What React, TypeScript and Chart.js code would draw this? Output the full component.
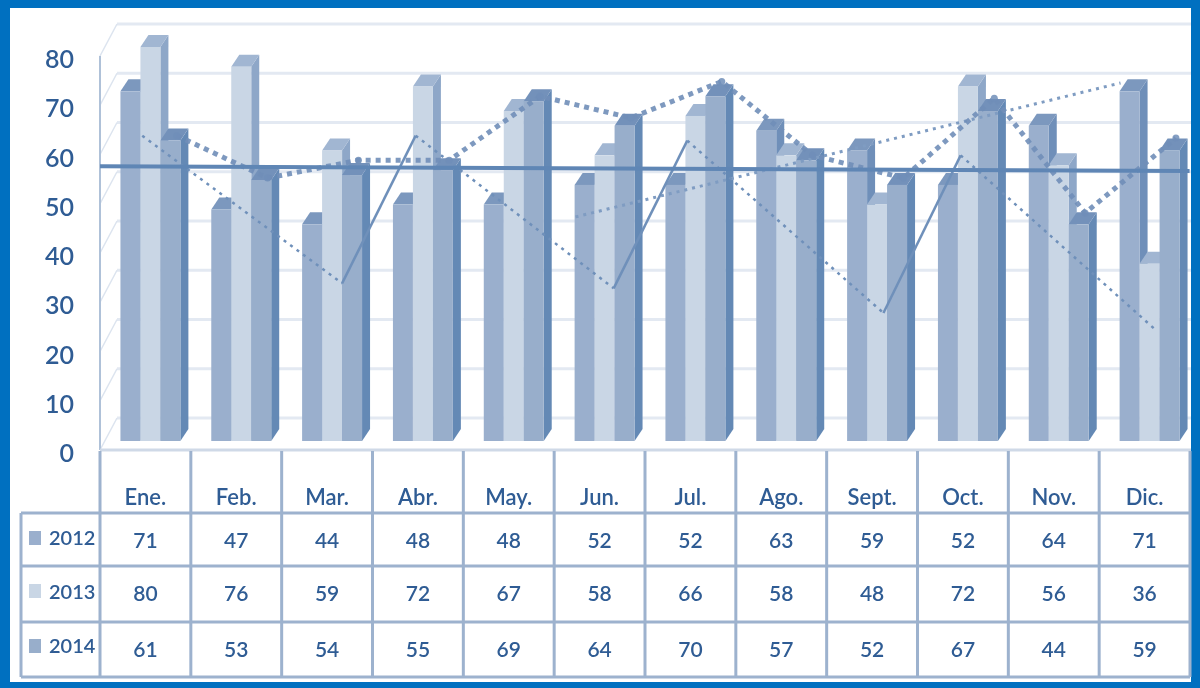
import React, { useEffect, useRef } from "react";
import { Chart, registerables } from "chart.js";

Chart.register(...registerables);

const months = ["Ene.", "Feb.", "Mar.", "Abr.", "May.", "Jun.", "Jul.", "Ago.", "Sept.", "Oct.", "Nov.", "Dic."];
const values2012 = [71, 47, 44, 48, 48, 52, 52, 63, 59, 52, 64, 71];
const values2013 = [80, 76, 59, 72, 67, 58, 66, 58, 48, 72, 56, 36];
const values2014 = [61, 53, 54, 55, 69, 64, 70, 57, 52, 67, 44, 59];
const yTicks = { min: 0, max: 80, step: 10 };

// overlay lines
const thickLine = [62, 53.4, 57, 57, 70, 65.6, 73, 58, 53.4, 69.6, 46.3, 61.5];
const sawPositions = [-0.09, 2.11, 2.92, 5.1, 5.91, 8.07, 8.92, 11.07];
const sawValues = [62, 32, 62, 31, 61, 26, 58, 22.5];
const risingPositions = [4.68, 10.68];
const risingValues = [45.5, 72.7];
const averagePositions = [-0.555, 11.44];
const averageValues = [55.8, 54.8];

const series = [
  { name: "2012", values: values2012, front: "#9AAFCD", side: "#6F8FB9", top: "#7C98BE" },
  { name: "2013", values: values2013, front: "#C9D6E5", side: "#8EA7C8", top: "#A1B6D2" },
  { name: "2014", values: values2014, front: "#98AECB", side: "#6489B5", top: "#7391BA" },
];

const DEPTH_X = 8;
const DEPTH_Y = 12;
const TEXT = "#2F5C94";
const LINE = "#9DB2CE";
const FONT = "Lato, sans-serif";

const chartDecor = {
  id: "chartDecor",
  beforeDraw(chart: any) {
    const { ctx } = chart;
    const y = chart.scales.y;
    const x = chart.scales.x;
    const cellW = x.width / months.length;
    const cellEdge = (i: number) => x.left - 5 + i * cellW;

    ctx.save();
    // white page and blue frame
    ctx.fillStyle = "#0070C0";
    ctx.fillRect(0, 0, 1200, 688);
    ctx.fillStyle = "#FFFFFF";
    ctx.fillRect(10, 8, 1181, 674);

    // walls
    y.ticks.forEach((t: any) => {
      const p = y.getPixelForValue(t.value);
      ctx.strokeStyle = "#E3E9F2";
      ctx.lineWidth = 3;
      ctx.beginPath();
      ctx.moveTo(117, p - 23);
      ctx.lineTo(1191, p - 23);
      ctx.stroke();
      ctx.lineWidth = 1.5;
      ctx.strokeStyle = "#DCE4EF";
      ctx.beginPath();
      ctx.moveTo(100, p + 9);
      ctx.lineTo(117, p - 23);
      ctx.stroke();
    });
    ctx.strokeStyle = "#AFC1D8";
    ctx.lineWidth = 2;
    ctx.beginPath();
    ctx.moveTo(100, y.getPixelForValue(yTicks.max) + 9);
    ctx.lineTo(100, y.getPixelForValue(0) + 9);
    ctx.stroke();
    ctx.strokeStyle = "#CFD9E7";
    ctx.lineWidth = 3;
    ctx.beginPath();
    ctx.moveTo(100, y.getPixelForValue(0) + 9);
    ctx.lineTo(1191, y.getPixelForValue(0) + 9);
    ctx.stroke();

    // table
    ctx.strokeStyle = LINE;
    ctx.lineWidth = 3;
    const rows = [513, 566, 622, 677];
    ctx.beginPath();
    rows.forEach((r) => {
      ctx.moveTo(21, r);
      ctx.lineTo(1190, r);
    });
    ctx.moveTo(21, rows[0]);
    ctx.lineTo(21, rows[3]);
    for (let i = 0; i <= months.length; i++) {
      ctx.moveTo(cellEdge(i), 451);
      ctx.lineTo(cellEdge(i), rows[3]);
    }
    ctx.stroke();

    const rowText = [541, 594, 650];
    const rowName = [539, 593, 647];
    const swatch = [531, 584, 639];
    ctx.textBaseline = "middle";
    series.forEach((s, r) => {
      ctx.fillStyle = s.front;
      ctx.fillRect(29, swatch[r], 12, 14);
      ctx.fillStyle = TEXT;
      ctx.font = `600 20px ${FONT}`;
      ctx.textAlign = "left";
      ctx.fillText(s.name, 49, rowName[r]);
      ctx.font = `600 21px ${FONT}`;
      ctx.textAlign = "center";
      s.values.forEach((v, i) => {
        ctx.fillText(String(v), cellEdge(i) + cellW / 2, rowText[r]);
      });
    });
    ctx.restore();
  },
  beforeDatasetsDraw(chart: any) {
    const { ctx } = chart;
    ctx.save();
    // bars, left to right, so that each hides the side of the one before it
    months.forEach((_, i) => {
      series.forEach((s, d) => {
        const el = chart.getDatasetMeta(d).data[i];
        const l = el.x - el.width / 2;
        const r = el.x + el.width / 2;
        const t = el.y;
        const b = el.base;
        ctx.fillStyle = s.side;
        ctx.beginPath();
        ctx.moveTo(r, t);
        ctx.lineTo(r + DEPTH_X, t - DEPTH_Y);
        ctx.lineTo(r + DEPTH_X, b - DEPTH_Y);
        ctx.lineTo(r, b);
        ctx.closePath();
        ctx.fill();
        ctx.fillStyle = s.top;
        ctx.beginPath();
        ctx.moveTo(l, t);
        ctx.lineTo(l + DEPTH_X, t - DEPTH_Y);
        ctx.lineTo(r + DEPTH_X, t - DEPTH_Y);
        ctx.lineTo(r, t);
        ctx.closePath();
        ctx.fill();
        ctx.fillStyle = s.front;
        ctx.fillRect(l, t, r - l, b - t);
      });
    });
    ctx.restore();
  },
  beforeDatasetDraw(chart: any, args: any) {
    // bar faces are painted together above, in depth order
    if (args.index < series.length) return false;
    return true;
  },
};

export default function App() {
  const ref = useRef<HTMLCanvasElement>(null);
  useEffect(() => {
    document.body.style.margin = "0";
    document.body.style.background = "#fff";
    const lineBase = {
      type: "line" as const,
      fill: false,
      tension: 0,
      clip: false as const,
    };
    const chart = new Chart(ref.current as HTMLCanvasElement, {
      type: "bar",
      data: {
        datasets: [
          ...series.map((s) => ({
            label: s.name,
            data: s.values.map((y, x) => ({ x, y })),
            backgroundColor: s.front,
            barPercentage: 1,
            categoryPercentage: 0.66,
          })),
          {
            ...lineBase,
            label: "Promedio",
            data: averagePositions.map((x, i) => ({ x, y: averageValues[i] })),
            borderColor: "#5F86B5",
            borderWidth: 4,
            pointRadius: 0,
          },
          {
            ...lineBase,
            label: "Tendencia",
            data: thickLine.map((y, i) => ({ x: i + 0.29, y })),
            borderColor: "rgba(112,142,184,0.9)",
            borderWidth: 5,
            borderDash: [5, 5],
            pointRadius: 3.5,
            pointBackgroundColor: "rgba(112,142,184,0.85)",
            pointBorderWidth: 0,
          },
          {
            ...lineBase,
            label: "Sierra",
            data: sawPositions.map((x, i) => ({ x, y: sawValues[i] })),
            borderColor: "#6F90BA",
            borderWidth: 2.5,
            pointRadius: 0,
            segment: {
              borderDash: (c: any) => (c.p0DataIndex % 2 === 0 ? [3, 5] : undefined),
            },
          },
          {
            ...lineBase,
            label: "Ascenso",
            data: risingPositions.map((x, i) => ({ x, y: risingValues[i] })),
            borderColor: "#7F9CC2",
            borderWidth: 3,
            borderDash: [3, 5],
            pointRadius: 0,
          },
        ] as any,
      },
      options: {
        animation: false,
        responsive: false,
        devicePixelRatio: 1,
        layout: { autoPadding: false, padding: { left: 0, right: 5, top: 47, bottom: 0 } },
        plugins: { legend: { display: false }, tooltip: { enabled: false } },
        scales: {
          x: {
            type: "linear",
            offset: false,
            min: -0.5,
            max: 11.5,
            grid: { display: false },
            border: { display: false },
            afterBuildTicks: (s: any) => {
              s.ticks = months.map((_, value) => ({ value }));
            },
            afterFit: (s: any) => {
              s.height = 247;
              s.paddingLeft = 0;
              s.paddingRight = 0;
            },
            ticks: {
              callback: (v: any) => months[v as number] ?? "",
              color: TEXT,
              font: { family: FONT, size: 22, weight: "600" },
              padding: 36,
              labelOffset: -5,
              maxRotation: 0,
              autoSkip: false,
            },
          },
          y: {
            min: yTicks.min,
            max: yTicks.max,
            grid: { display: false, drawTicks: false },
            border: { display: false },
            afterFit: (s: any) => {
              s.width = 105;
            },
            ticks: {
              stepSize: yTicks.step,
              color: TEXT,
              font: { family: FONT, size: 25, weight: "600" },
              padding: 31,
              labelOffset: 13,
            },
          },
        },
      },
      plugins: [chartDecor],
    } as any);
    return () => chart.destroy();
  }, []);
  return (
    <canvas
      ref={ref}
      width={1200}
      height={688}
      style={{ display: "block", width: 1200, height: 688, filter: "blur(0.75px)" }}
    />
  );
}
